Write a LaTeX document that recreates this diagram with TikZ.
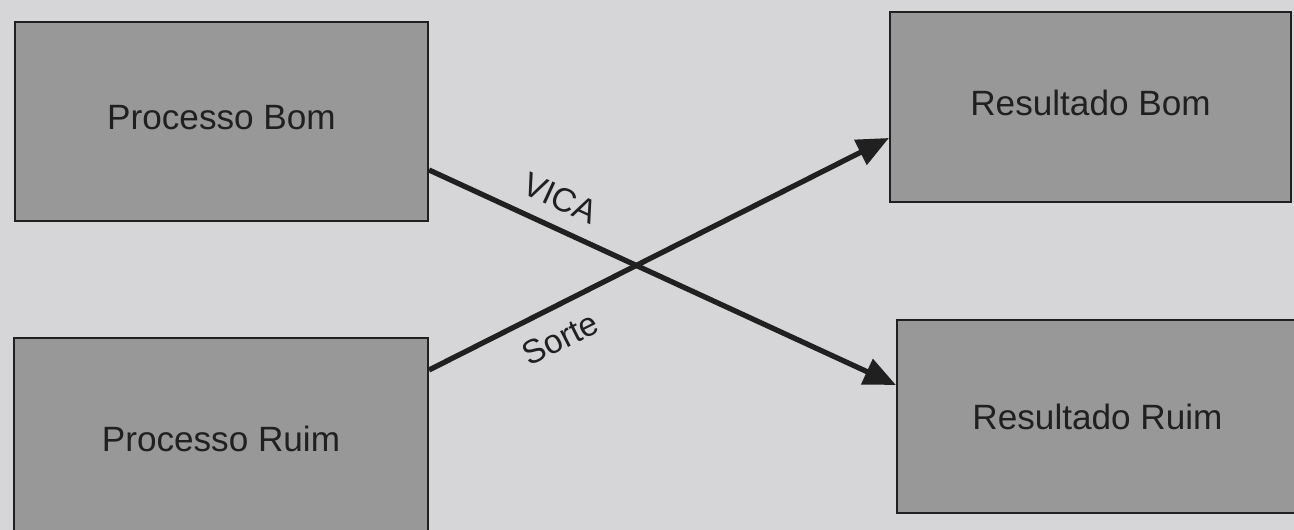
\documentclass[tikz,border=0pt]{standalone}
\usepackage{fontspec}
\setmainfont{Liberation Sans}
\usepackage{xcolor}
\usetikzlibrary{positioning,calc,arrows.meta}
\definecolor{pagegray}{RGB}{214,214,216}
\definecolor{boxgray}{RGB}{152,152,152}
\definecolor{inkgray}{RGB}{32,32,32}

\tikzset{
    casebox/.style={draw=inkgray, line width=1.2pt, fill=boxgray, text=inkgray,
        minimum width=8.2cm, minimum height=3.95cm, inner sep=0pt,
        font=\fontsize{20}{24}\selectfont},
    flow/.style={draw=inkgray, line width=3pt,
        -{Triangle[length=0.64cm, width=0.54cm]}},
    tag/.style={text=inkgray, font=\fontsize{19}{22}\selectfont, sloped}
}

\begin{document}
\begin{tikzpicture}
        \fill[pagegray] (0,0) rectangle (25.88,10.6);
        \useasboundingbox (0,0) rectangle (25.88,10.6);

        \node[casebox, minimum width=8.26cm, minimum height=3.98cm] (pbom) at (4.43,8.17) {\raisebox{0.18cm}{Processo Bom}};
        \node[casebox, minimum width=8.28cm, minimum height=4.08cm] (pruim) at (4.42,1.8) {\raisebox{0.06cm}{Processo Ruim}};
        \node[casebox, minimum width=8.02cm, minimum height=3.8cm] (rbom) at (21.81,8.46) {\raisebox{0.16cm}{Resultado Bom}};
        \node[casebox, minimum width=8.02cm, minimum height=3.86cm] (rruim) at (21.95,2.27) {\raisebox{-0.1cm}{Resultado Ruim}};

        \draw[flow] ([yshift=-0.97cm]pbom.east) -- ([yshift=0.63cm]rruim.west)
            node[tag, pos=0.255, above=5pt] {VICA};
        \draw[flow] ([yshift=1.4cm]pruim.east) -- ([yshift=-0.62cm]rbom.west)
            node[tag, pos=0.255, below=6pt] {Sorte};
    \end{tikzpicture}
\end{document}
